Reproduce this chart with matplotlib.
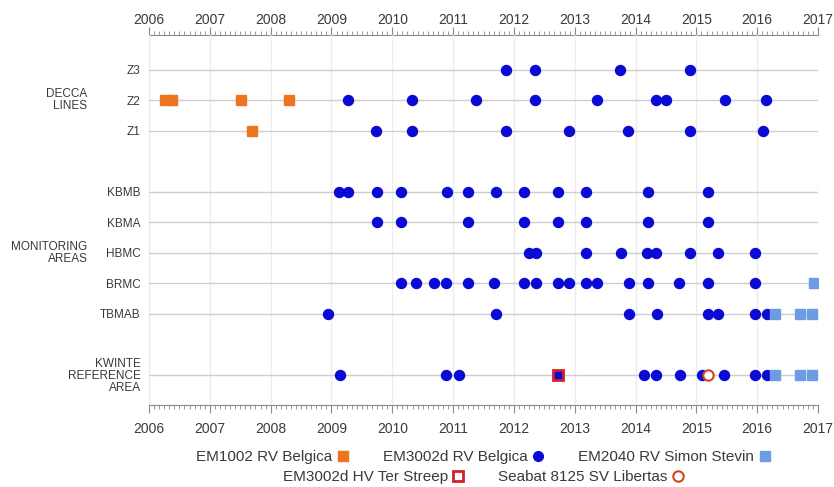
import matplotlib.pyplot as plt
from matplotlib.ticker import MultipleLocator
from matplotlib.lines import Line2D

plt.rcParams['font.family'] = ['Liberation Sans', 'DejaVu Sans']

# rows from top to bottom ('' = empty spacer row)
rows = ['Z3', 'Z2', 'Z1', '', 'KBMB', 'KBMA', 'HBMC', 'BRMC', 'TBMAB', '',
        'KWINTE\nREFERENCE\nAREA']
kwinte = 'KWINTE\nREFERENCE\nAREA'
years = list(range(2006, 2018))

# survey dates (decimal years) per row, one dict per system
em1002_belgica = {
    'Z2': [2006.27, 2006.37, 2007.51, 2008.30],
    'Z1': [2007.69],
}
em3002_belgica = {
    'Z3': [2011.87, 2012.35, 2013.75, 2014.90],
    'Z2': [2009.28, 2010.32, 2011.37, 2012.35, 2013.36, 2014.34, 2014.50,
           2015.47, 2016.14],
    'Z1': [2009.74, 2010.32, 2011.87, 2012.90, 2013.88, 2014.89, 2016.09],
    'KBMB': [2009.13, 2009.28, 2009.75, 2010.14, 2010.90, 2011.25, 2011.71,
             2012.17, 2012.72, 2013.19, 2014.20, 2015.19],
    'KBMA': [2009.75, 2010.14, 2011.25, 2012.17, 2012.72, 2013.19, 2014.20,
             2015.19],
    'HBMC': [2012.25, 2012.36, 2013.19, 2013.76, 2014.19, 2014.34, 2014.90,
             2015.35, 2015.96],
    'BRMC': [2010.14, 2010.39, 2010.68, 2010.88, 2011.25, 2011.68, 2012.17,
             2012.36, 2012.72, 2012.90, 2013.19, 2013.36, 2013.89, 2014.20,
             2014.72, 2015.19, 2015.96],
    'TBMAB': [2008.94, 2011.71, 2013.89, 2014.35, 2015.19, 2015.35, 2015.96,
              2016.16],
    kwinte: [2009.14, 2010.88, 2011.10, 2012.72, 2014.14, 2014.34, 2014.73,
             2015.09, 2015.46, 2015.96, 2016.16],
}
em2040_stevin = {
    'BRMC': [2016.93],
    'TBMAB': [2016.30, 2016.71, 2016.90],
    kwinte: [2016.30, 2016.71, 2016.90],
}
em3002_terstreep = {kwinte: [2012.72]}
seabat_libertas = {kwinte: [2015.19]}

orange = '#ef7422'
blue = '#0a0ad4'
lightblue = '#6d9be4'
red = '#d0202a'
txt = '#3a3a3a'

fig = plt.figure(figsize=(8.34, 4.87), dpi=100)
ax = fig.add_axes([149 / 834, 1 - 405 / 487, 669 / 834, 370 / 487])

ypos = {name: i for i, name in enumerate(rows) if name}


def draw(series, **kw):
    for name, dates in series.items():
        ax.plot(dates, [ypos[name]] * len(dates), linestyle='none', **kw)


draw(em1002_belgica, marker='s', ms=6.5, color=orange, mec=orange, zorder=3)
draw(em3002_belgica, marker='o', ms=7.2, color=blue, mec=blue, zorder=3)
draw(em2040_stevin, marker='s', ms=7, color=lightblue, mec=lightblue, zorder=4)
draw(em3002_terstreep, marker='s', ms=7.5, mfc='none', mec=red, mew=2, zorder=5)
draw(seabat_libertas, marker='o', ms=7.5, mfc='white', mec='#d2451e', mew=1.5,
     zorder=5)

ax.set_xlim(years[0], years[-1])
ax.set_ylim(11.0, -1.14)

ax.set_yticks(list(ypos.values()))
ax.set_yticklabels(list(ypos.keys()), fontsize=8.5, color=txt, linespacing=1.0)
ax.tick_params(axis='y', length=0, pad=6)
ax.grid(axis='y', color='#cfcfcf', lw=1, zorder=1)

ax.set_xticks(years)
ax.xaxis.set_minor_locator(MultipleLocator(1 / 12))
ax.tick_params(axis='x', which='major', length=6, color='#8a8a8a',
               labelsize=10, labelcolor=txt, pad=6)
ax.tick_params(axis='x', which='minor', length=3, color='#8a8a8a')
ax.grid(axis='x', which='major', color='#ececec', lw=1, zorder=0)

top = ax.secondary_xaxis('top')
top.set_xticks(years)
top.xaxis.set_minor_locator(MultipleLocator(1 / 12))
top.tick_params(axis='x', which='major', length=6, color='#8a8a8a',
                labelsize=10, labelcolor=txt, pad=-0.5)
top.tick_params(axis='x', which='minor', length=3, color='#8a8a8a')
top.spines['top'].set_color('#8a8a8a')

for side in ['left', 'right', 'top']:
    ax.spines[side].set_visible(False)
ax.spines['bottom'].set_color('#8a8a8a')

# group labels
ax.text(-0.092, ypos['Z2'], 'DECCA\nLINES', transform=ax.get_yaxis_transform(),
        ha='right', va='center', fontsize=8.5, color=txt, linespacing=1.0)
ax.text(-0.092, ypos['HBMC'], 'MONITORING\nAREAS',
        transform=ax.get_yaxis_transform(), ha='right', va='center',
        fontsize=8.5, color=txt, linespacing=1.0)

# legend (label first, marker after)
h1 = [
    Line2D([], [], ls='none', marker='s', ms=6.5, color=orange),
    Line2D([], [], ls='none', marker='o', ms=7, color=blue),
    Line2D([], [], ls='none', marker='s', ms=6.5, color=lightblue),
]
l1 = ['EM1002 RV Belgica', 'EM3002d RV Belgica', 'EM2040 RV Simon Stevin']
h2 = [
    Line2D([], [], ls='none', marker='s', ms=6.5, mfc='white', mec=red, mew=2),
    Line2D([], [], ls='none', marker='o', ms=7.5, mfc='white', mec='#d2451e',
           mew=1.5),
]
l2 = ['EM3002d HV Ter Streep', 'Seabat 8125 SV Libertas']
cx = (149 + 669 / 2) / 834
leg1 = fig.legend(h1, l1, ncol=3, loc='center', bbox_to_anchor=(cx, 1 - 457 / 487),
                  frameon=False, markerfirst=False, fontsize=11, handlelength=0.8,
                  handletextpad=0.3, columnspacing=2.2, labelcolor=txt)
leg2 = fig.legend(h2, l2, ncol=2, loc='center', bbox_to_anchor=(cx, 1 - 477 / 487),
                  frameon=False, markerfirst=False, fontsize=11, handlelength=0.8,
                  handletextpad=0.3, columnspacing=2.2, labelcolor=txt)

fig.savefig('out.png', dpi=100)
